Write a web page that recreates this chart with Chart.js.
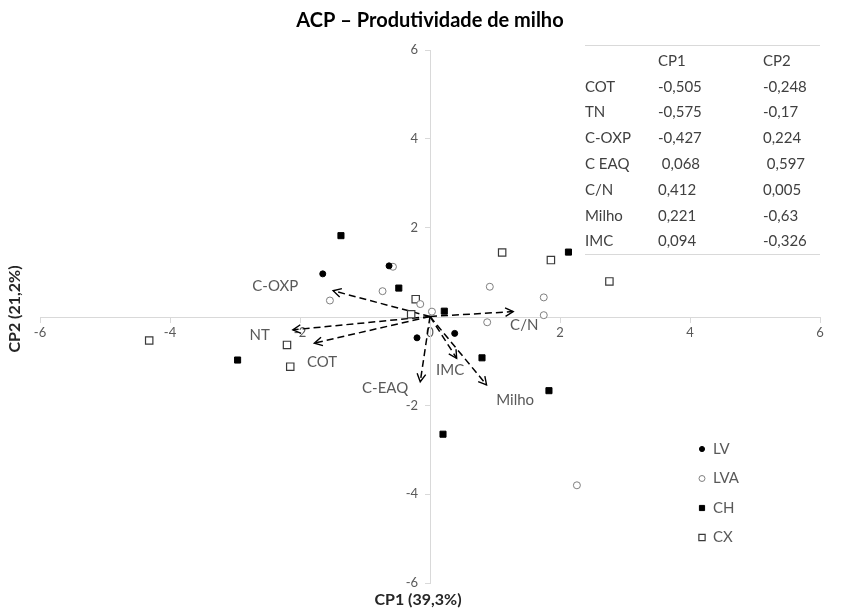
<!DOCTYPE html>
<html>
<head>
<meta charset="utf-8">
<script src="https://cdn.jsdelivr.net/npm/chart.js@4.4.0/dist/chart.umd.min.js"></script>
<style>
  html, body { margin: 0; padding: 0; background: #fff; }
  #wrap { width: 845px; height: 611px; }
</style>
</head>
<body>
<div id="wrap"><canvas id="acpChart"></canvas></div>
<script>
// Escores das amostras (CP1, CP2) por grupo de solo
var groupNames = ['LV', 'LVA', 'CH', 'CX'];
var lvX = [-1.65, -0.63, -0.20, 0.38];
var lvY = [0.96, 1.14, -0.48, -0.38];
var lvaX = [-0.57, -1.54, -0.73, -0.15, 0.03, 0.92, 0.88, 1.75, 1.75, 2.26];
var lvaY = [1.12, 0.36, 0.57, 0.28, 0.11, 0.67, -0.13, 0.43, 0.03, -3.80];
var chX = [-1.37, -0.48, 0.22, -2.96, 0.80, 1.83, 0.20, 2.13];
var chY = [1.82, 0.64, 0.12, -0.98, -0.93, -1.67, -2.65, 1.45];
var cxX = [1.11, 1.86, 2.76, -0.22, -0.29, -2.20, -2.15, -4.32];
var cxY = [1.44, 1.27, 0.79, 0.39, 0.05, -0.64, -1.13, -0.54];

// Vetores das variáveis (pontas das setas) e posição dos rótulos
var varNames = ['C-OXP', 'NT', 'COT', 'C-EAQ', 'IMC', 'Milho', 'C/N'];
var arrowX = [-1.49, -2.11, -1.78, -0.15, 0.41, 0.87, 1.28];
var arrowY = [0.58, -0.30, -0.60, -1.47, -0.94, -1.54, 0.11];
var labelX = [-2.38, -2.62, -1.66, -0.69, 0.31, 1.31, 1.45];
var labelY = [0.69, -0.42, -1.02, -1.61, -1.20, -1.88, -0.19];

// Tabela de cargas
var tableHead = ['CP1', 'CP2'];
var tableRows = ['COT', 'TN', 'C-OXP', 'C EAQ', 'C/N', 'Milho', 'IMC'];
var tableCP1 = ['-0,505', '-0,575', '-0,427', ' 0,068', '0,412', '0,221', '0,094'];
var tableCP2 = ['-0,248', '-0,17', '0,224', ' 0,597', '0,005', '-0,63', '-0,326'];

var axisTicks = [-6, -4, -2, 0, 2, 4, 6];

var FONT = 'Lato, "Open Sans", "Noto Sans", sans-serif';
var GRAY = '#595959';

function pairs(xs, ys) {
    return xs.map(function (v, i) { return { x: v, y: ys[i] }; });
}

var pointSets = [
    { label: 'LV', data: pairs(lvX, lvY), pointStyle: 'circle', pointRadius: 3,
      backgroundColor: '#000', borderColor: '#000', borderWidth: 1 },
    { label: 'LVA', data: pairs(lvaX, lvaY), pointStyle: 'circle', pointRadius: 3.5,
      backgroundColor: '#fff', borderColor: '#7f7f7f', borderWidth: 1 },
    { label: 'CH', data: pairs(chX, chY), pointStyle: 'rect', pointRadius: 4.3,
      backgroundColor: '#000', borderColor: '#000', borderWidth: 1 },
    { label: 'CX', data: pairs(cxX, cxY), pointStyle: 'rect', pointRadius: 5.2,
      backgroundColor: '#fff', borderColor: '#3a3a3a', borderWidth: 1.2 }
];

var arrowSets = varNames.map(function (name, i) {
    return {
        label: name,
        type: 'line',
        data: [{ x: 0, y: 0 }, { x: arrowX[i], y: arrowY[i] }],
        borderColor: '#000',
        borderWidth: 1.5,
        borderDash: [7, 4],
        pointRadius: 0,
        fill: false
    };
});

// Setas, rótulos, tabela, legenda e títulos dos eixos
var extras = {
    id: 'extras',
    afterDatasetsDraw: function (chart) {
        var ctx = chart.ctx;
        var xs = chart.scales.x, ys = chart.scales.y;
        var ox = xs.getPixelForValue(0), oy = ys.getPixelForValue(0);
        ctx.save();

        // pontas de seta
        ctx.strokeStyle = '#000';
        ctx.lineWidth = 1.4;
        ctx.setLineDash([]);
        for (var i = 0; i < arrowX.length; i++) {
            var x1 = xs.getPixelForValue(arrowX[i]), y1 = ys.getPixelForValue(arrowY[i]);
            var a = Math.atan2(y1 - oy, x1 - ox);
            ctx.beginPath();
            ctx.moveTo(x1 - 9 * Math.cos(a - 0.5), y1 - 9 * Math.sin(a - 0.5));
            ctx.lineTo(x1, y1);
            ctx.lineTo(x1 - 9 * Math.cos(a + 0.5), y1 - 9 * Math.sin(a + 0.5));
            ctx.stroke();
        }

        // rótulos das variáveis
        ctx.font = '15px ' + FONT;
        ctx.fillStyle = GRAY;
        ctx.textAlign = 'center';
        ctx.textBaseline = 'middle';
        for (var j = 0; j < varNames.length; j++) {
            ctx.fillText(varNames[j], xs.getPixelForValue(labelX[j]), ys.getPixelForValue(labelY[j]));
        }

        // tabela
        var tLeft = 585, tRight = 820, c1 = 658, c2 = 763;
        var rowH = 25.8, headY = 61;
        ctx.strokeStyle = '#d9d9d9';
        ctx.lineWidth = 1;
        ctx.beginPath();
        ctx.moveTo(tLeft, 45.5); ctx.lineTo(tRight, 45.5);
        ctx.moveTo(tLeft, 254.5); ctx.lineTo(tRight, 254.5);
        ctx.stroke();
        ctx.font = '15px ' + FONT;
        ctx.fillStyle = '#404040';
        ctx.textAlign = 'left';
        ctx.fillText(tableHead[0], c1, headY);
        ctx.fillText(tableHead[1], c2, headY);
        for (var r = 0; r < tableRows.length; r++) {
            var ry = headY + rowH * (r + 1);
            ctx.fillText(tableRows[r], tLeft, ry);
            ctx.fillText(tableCP1[r], c1, ry);
            ctx.fillText(tableCP2[r], c2, ry);
        }

        // legenda
        for (var g = 0; g < groupNames.length; g++) {
            var ds = chart.data.datasets[g];
            var ly = 449 + 29.5 * g;
            ctx.fillStyle = ds.backgroundColor;
            ctx.strokeStyle = ds.borderColor;
            ctx.lineWidth = ds.borderWidth;
            ctx.beginPath();
            if (ds.pointStyle === 'circle') {
                ctx.arc(702, ly, ds.pointRadius * 0.85, 0, Math.PI * 2);
            } else {
                var s = ds.pointRadius * 0.6;
                ctx.rect(702 - s, ly - s, 2 * s, 2 * s);
            }
            ctx.fill();
            ctx.stroke();
            ctx.font = '15px ' + FONT;
            ctx.fillStyle = GRAY;
            ctx.textAlign = 'left';
            ctx.fillText(groupNames[g], 713, ly);
        }

        // títulos dos eixos
        ctx.font = 'bold 16px ' + FONT;
        ctx.fillStyle = '#262626';
        ctx.textAlign = 'center';
        ctx.fillText('CP1 (39,3%)', 418, 600);
        ctx.translate(15, 309);
        ctx.rotate(-Math.PI / 2);
        ctx.fillText('CP2 (21,2%)', 0, 0);
        ctx.restore();
    }
};

var ctxAcp = document.getElementById('acpChart').getContext('2d');
var acpChart = new Chart(ctxAcp, {
    type: 'scatter',
    data: { datasets: pointSets.concat(arrowSets) },
    options: {
        responsive: true,
        maintainAspectRatio: false,
        animation: false,
        layout: { padding: { left: 40, right: 25, top: 0, bottom: 28 } },
        plugins: {
            legend: { display: false },
            tooltip: { enabled: false },
            title: {
                display: true,
                text: 'ACP – Produtividade de milho',
                color: '#000',
                font: { family: FONT, size: 20, weight: 'bold' },
                padding: { top: 9, bottom: 17 }
            }
        },
        scales: {
            x: {
                type: 'linear',
                position: 'center',
                min: -6, max: 6,
                afterBuildTicks: function (axis) {
                    axis.ticks = axisTicks.map(function (v) { return { value: v }; });
                },
                ticks: { color: GRAY, font: { family: FONT, size: 13 }, padding: 4 },
                grid: { display: true, drawOnChartArea: false, drawTicks: true, tickLength: 5, color: '#d9d9d9' },
                border: { display: true, color: '#d9d9d9' }
            },
            y: {
                type: 'linear',
                position: 'center',
                min: -6, max: 6,
                afterBuildTicks: function (axis) {
                    axis.ticks = axisTicks.map(function (v) { return { value: v }; });
                },
                ticks: {
                    color: GRAY, font: { family: FONT, size: 13 }, padding: 7,
                    callback: function (v) { return v === 0 ? '' : v; }
                },
                grid: { display: true, drawOnChartArea: false, drawTicks: true, tickLength: 5, color: '#d9d9d9' },
                border: { display: true, color: '#d9d9d9' }
            }
        }
    },
    plugins: [extras]
});
</script>
</body>
</html>
